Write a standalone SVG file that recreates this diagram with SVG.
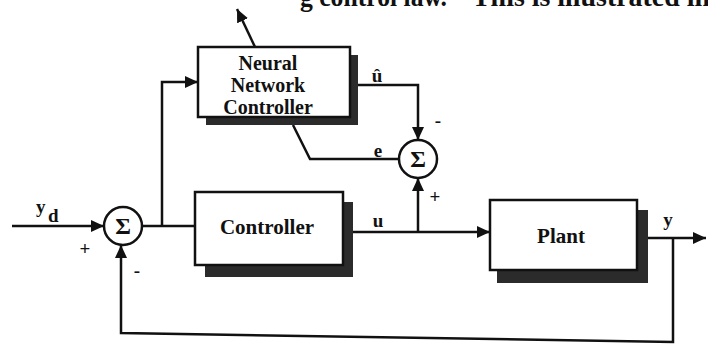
<svg xmlns="http://www.w3.org/2000/svg" width="708" height="345" viewBox="0 0 708 345">
<style>
.box{fill:#fff;stroke:#111;stroke-width:2.5}
.shadow{fill:#2b2b2b}
.sum{fill:#fff;stroke:#111;stroke-width:2.5}
.wire{fill:none;stroke:#111;stroke-width:2.5;stroke-linejoin:miter}
.t{font-family:"Liberation Serif","Times New Roman",serif;font-weight:bold;fill:#111}
.lbl{font-family:"Liberation Serif","Times New Roman",serif;font-weight:bold;fill:#111;font-size:19px}
</style>
<defs>
<marker id="arr" markerUnits="userSpaceOnUse" markerWidth="14" markerHeight="12" refX="13" refY="6" orient="auto">
<path d="M0,0 L13,6 L0,12 z" fill="#111"/>
</marker>
</defs>
<text class="t" x="300" y="6" font-size="28" textLength="147" lengthAdjust="spacingAndGlyphs">g control law.</text>
<text class="t" x="472" y="6" font-size="28" textLength="238" lengthAdjust="spacingAndGlyphs">This is illustrated in</text>
<g id="connectors">
<path class="wire" d="M12,226 L104,226" marker-end="url(#arr)"/>
<path class="wire" d="M142,226 L195,226"/>
<path class="wire" d="M162,226 L162,82 L198,82" marker-end="url(#arr)"/>
<path class="wire" d="M255,47 L237,9" marker-end="url(#arr)"/>
<path class="wire" d="M358,85 L418,85 L418,140" marker-end="url(#arr)"/>
<path class="wire" d="M293,125 L310,159 L399,159"/>
<path class="wire" d="M353,232 L490,232" marker-end="url(#arr)"/>
<path class="wire" d="M418,232 L418,178" marker-end="url(#arr)"/>
<path class="wire" d="M648,238 L706,238" marker-end="url(#arr)"/>
<path class="wire" d="M673,238 L673,342 L121,333 L121,245" marker-end="url(#arr)"/>
</g>
<g id="nn">
<rect class="shadow" x="206" y="55" width="152" height="70"/>
<rect class="box" x="198" y="47" width="152" height="70"/>
<text class="t" font-size="20" text-anchor="middle" x="268" y="70">Neural</text>
<text class="t" font-size="20" text-anchor="middle" x="268" y="92">Network</text>
<text class="t" font-size="20" text-anchor="middle" x="268" y="114">Controller</text>
</g>
<g id="controller">
<rect class="shadow" x="205" y="202" width="148" height="75"/>
<rect class="box" x="195" y="192" width="148" height="73"/>
<text class="t" font-size="21" text-anchor="middle" x="267" y="234">Controller</text>
</g>
<g id="plant">
<rect class="shadow" x="497" y="210" width="151" height="73"/>
<rect class="box" x="490" y="200" width="147" height="70"/>
<text class="t" font-size="21" text-anchor="middle" x="561" y="243">Plant</text>
</g>
<g id="sum1">
<circle class="sum" cx="123" cy="226" r="19"/>
<text class="t" font-size="24" text-anchor="middle" x="123" y="234">Σ</text>
</g>
<g id="sum2">
<circle class="sum" cx="418" cy="159" r="19"/>
<text class="t" font-size="24" text-anchor="middle" x="418" y="167">Σ</text>
</g>
<g id="labels">
<text class="lbl" x="36" y="213">y</text>
<text class="lbl" x="48" y="222" font-size="15">d</text>
<text class="lbl" x="85" y="255" text-anchor="middle">+</text>
<text class="lbl" x="137" y="277" text-anchor="middle">-</text>
<text class="lbl" x="377" y="82" text-anchor="middle">û</text>
<text class="lbl" x="378" y="157" text-anchor="middle">e</text>
<text class="lbl" x="438" y="127" text-anchor="middle">-</text>
<text class="lbl" x="435" y="203" text-anchor="middle">+</text>
<text class="lbl" x="378" y="227" text-anchor="middle">u</text>
<text class="lbl" x="668" y="226" text-anchor="middle">y</text>
</g>
</svg>
